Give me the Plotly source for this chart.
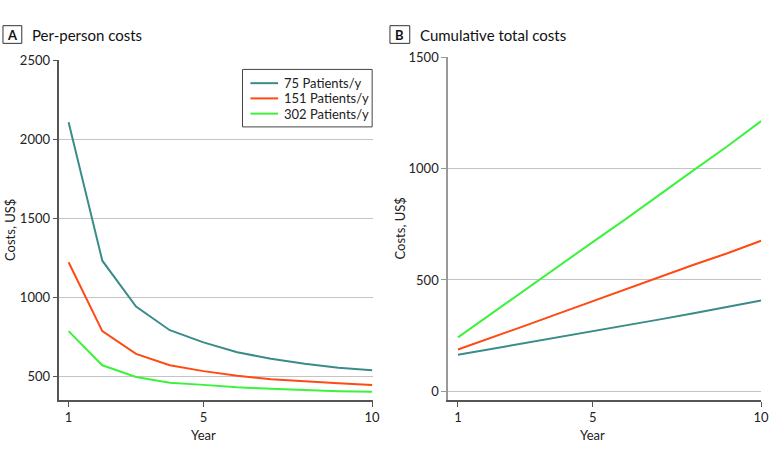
import plotly.graph_objects as go

years = [1, 2, 3, 4, 5, 6, 7, 8, 9, 10]
series_names = ["75 Patients/y", "151 Patients/y", "302 Patients/y"]
colors = ["#3A8C88", "#FF4A14", "#3DF23D"]

# Panel A: per-person costs, US$
per_person_75 = [2106, 1230, 940, 790, 713, 651, 609, 578, 553, 537]
per_person_151 = [1220, 784, 640, 568, 531, 502, 479, 465, 454, 444]
per_person_302 = [784, 568, 494, 458, 444, 429, 419, 410, 404, 400]

# Panel B: cumulative total costs
cum_75 = [164, 190, 216, 243, 270, 297, 323, 351, 378, 408]
cum_151 = [188, 240, 295, 350, 405, 460, 515, 568, 620, 676]
cum_302 = [242, 350, 455, 563, 670, 775, 885, 993, 1100, 1213]

x_ticks = [1, 5, 10]
yA_ticks = [500, 1000, 1500, 2000, 2500]
yB_ticks = [0, 500, 1000, 1500]

W, H = 780, 459
FONT = "Lato, 'Liberation Sans', Arial, sans-serif"


def px(x):
    return x / W


def py(y):
    return 1 - y / H


fig = go.Figure()
for name, col, vals in zip(series_names, colors, [per_person_75, per_person_151, per_person_302]):
    fig.add_trace(go.Scatter(x=years, y=vals, mode="lines", name=name,
                             line=dict(color=col, width=2), showlegend=False,
                             xaxis="x", yaxis="y"))
for name, col, vals in zip(series_names, colors, [cum_75, cum_151, cum_302]):
    fig.add_trace(go.Scatter(x=years, y=vals, mode="lines", name=name,
                             line=dict(color=col, width=2), showlegend=False,
                             xaxis="x2", yaxis="y2"))

axis_common = dict(tickfont=dict(family=FONT, size=13, color="#222"),
                   ticks="outside", ticklen=5, zeroline=False)

fig.update_layout(
    width=W, height=H,
    margin=dict(l=0, r=0, t=0, b=0),
    paper_bgcolor="white", plot_bgcolor="white",
    font=dict(family=FONT, color="#222"),
    xaxis=dict(domain=[px(60), px(377)], range=[0.727, 10.03], tickvals=x_ticks,
               showline=True, linecolor="#555", linewidth=1.5, tickcolor="#555",
               showgrid=False, anchor="y", **axis_common),
    yaxis=dict(domain=[py(399), py(53)], range=[348, 2500], tickvals=yA_ticks,
               showline=True, linecolor="#555", linewidth=1.5, tickcolor="#555",
               showgrid=True, gridcolor="#c4c4c4", gridwidth=1, anchor="x",
               **axis_common),
    xaxis2=dict(domain=[px(452.7), px(769.3)], range=[0.706, 10.01], tickvals=x_ticks,
                showline=True, linecolor="#555", linewidth=1.5, tickcolor="#555",
                showgrid=False, anchor="y2", **axis_common),
    yaxis2=dict(domain=[py(399), py(50)], range=[-39, 1500], tickvals=yB_ticks,
                showline=True, linecolor="#999", linewidth=1.5, tickcolor="#999",
                showgrid=True, gridcolor="#c4c4c4", gridwidth=1, anchor="x2",
                **axis_common),
)

shapes = []
annotations = []

# Panel labels
for (x0, x1, letter, tx, title) in [(3, 22, "A", 30, "Per-person costs"),
                                    (394, 414, "B", 422, "Cumulative total costs")]:
    shapes.append(dict(type="rect", xref="paper", yref="paper",
                       x0=px(x0), x1=px(x1), y0=py(36), y1=py(18),
                       line=dict(color="#333", width=1)))
    annotations.append(dict(xref="paper", yref="paper", x=px((x0 + x1) / 2), y=py(27),
                            text="<b>%s</b>" % letter, showarrow=False,
                            xanchor="center", yanchor="middle",
                            font=dict(family=FONT, size=13, color="#111")))
    annotations.append(dict(xref="paper", yref="paper", x=px(tx), y=py(27),
                            text=title, showarrow=False,
                            xanchor="left", yanchor="middle",
                            font=dict(family=FONT, size=15, color="#111")))

# Axis titles
for xa, ycen, xpix in [("x", (53 + 399) / 2, 10), ("x2", (50 + 399) / 2, 404)]:
    annotations.append(dict(xref="paper", yref="paper", x=px(xpix), y=py(ycen),
                            text="Costs, US$", showarrow=False, textangle=-90,
                            xanchor="center", yanchor="middle",
                            font=dict(family=FONT, size=13, color="#222")))
    annotations.append(dict(xref=xa, yref="paper", x=5, y=py(435),
                            text="Year", showarrow=False,
                            xanchor="center", yanchor="middle",
                            font=dict(family=FONT, size=13, color="#222")))

# Custom legend (panel A)
shapes.append(dict(type="rect", xref="paper", yref="paper",
                   x0=px(245), x1=px(376), y0=py(121), y1=py(62.5),
                   fillcolor="white", line=dict(color="#444", width=1)))
for i, (name, col) in enumerate(zip(series_names, colors)):
    yy = 76.5 + i * 15.5
    shapes.append(dict(type="line", xref="paper", yref="paper",
                       x0=px(253), x1=px(281), y0=py(yy), y1=py(yy),
                       line=dict(color=col, width=2)))
    annotations.append(dict(xref="paper", yref="paper", x=px(286), y=py(yy),
                            text=name, showarrow=False, borderpad=0,
                            xanchor="left", yanchor="middle",
                            font=dict(family=FONT, size=13, color="#222")))

fig.update_layout(shapes=shapes, annotations=annotations)
fig.write_html("out.html")
